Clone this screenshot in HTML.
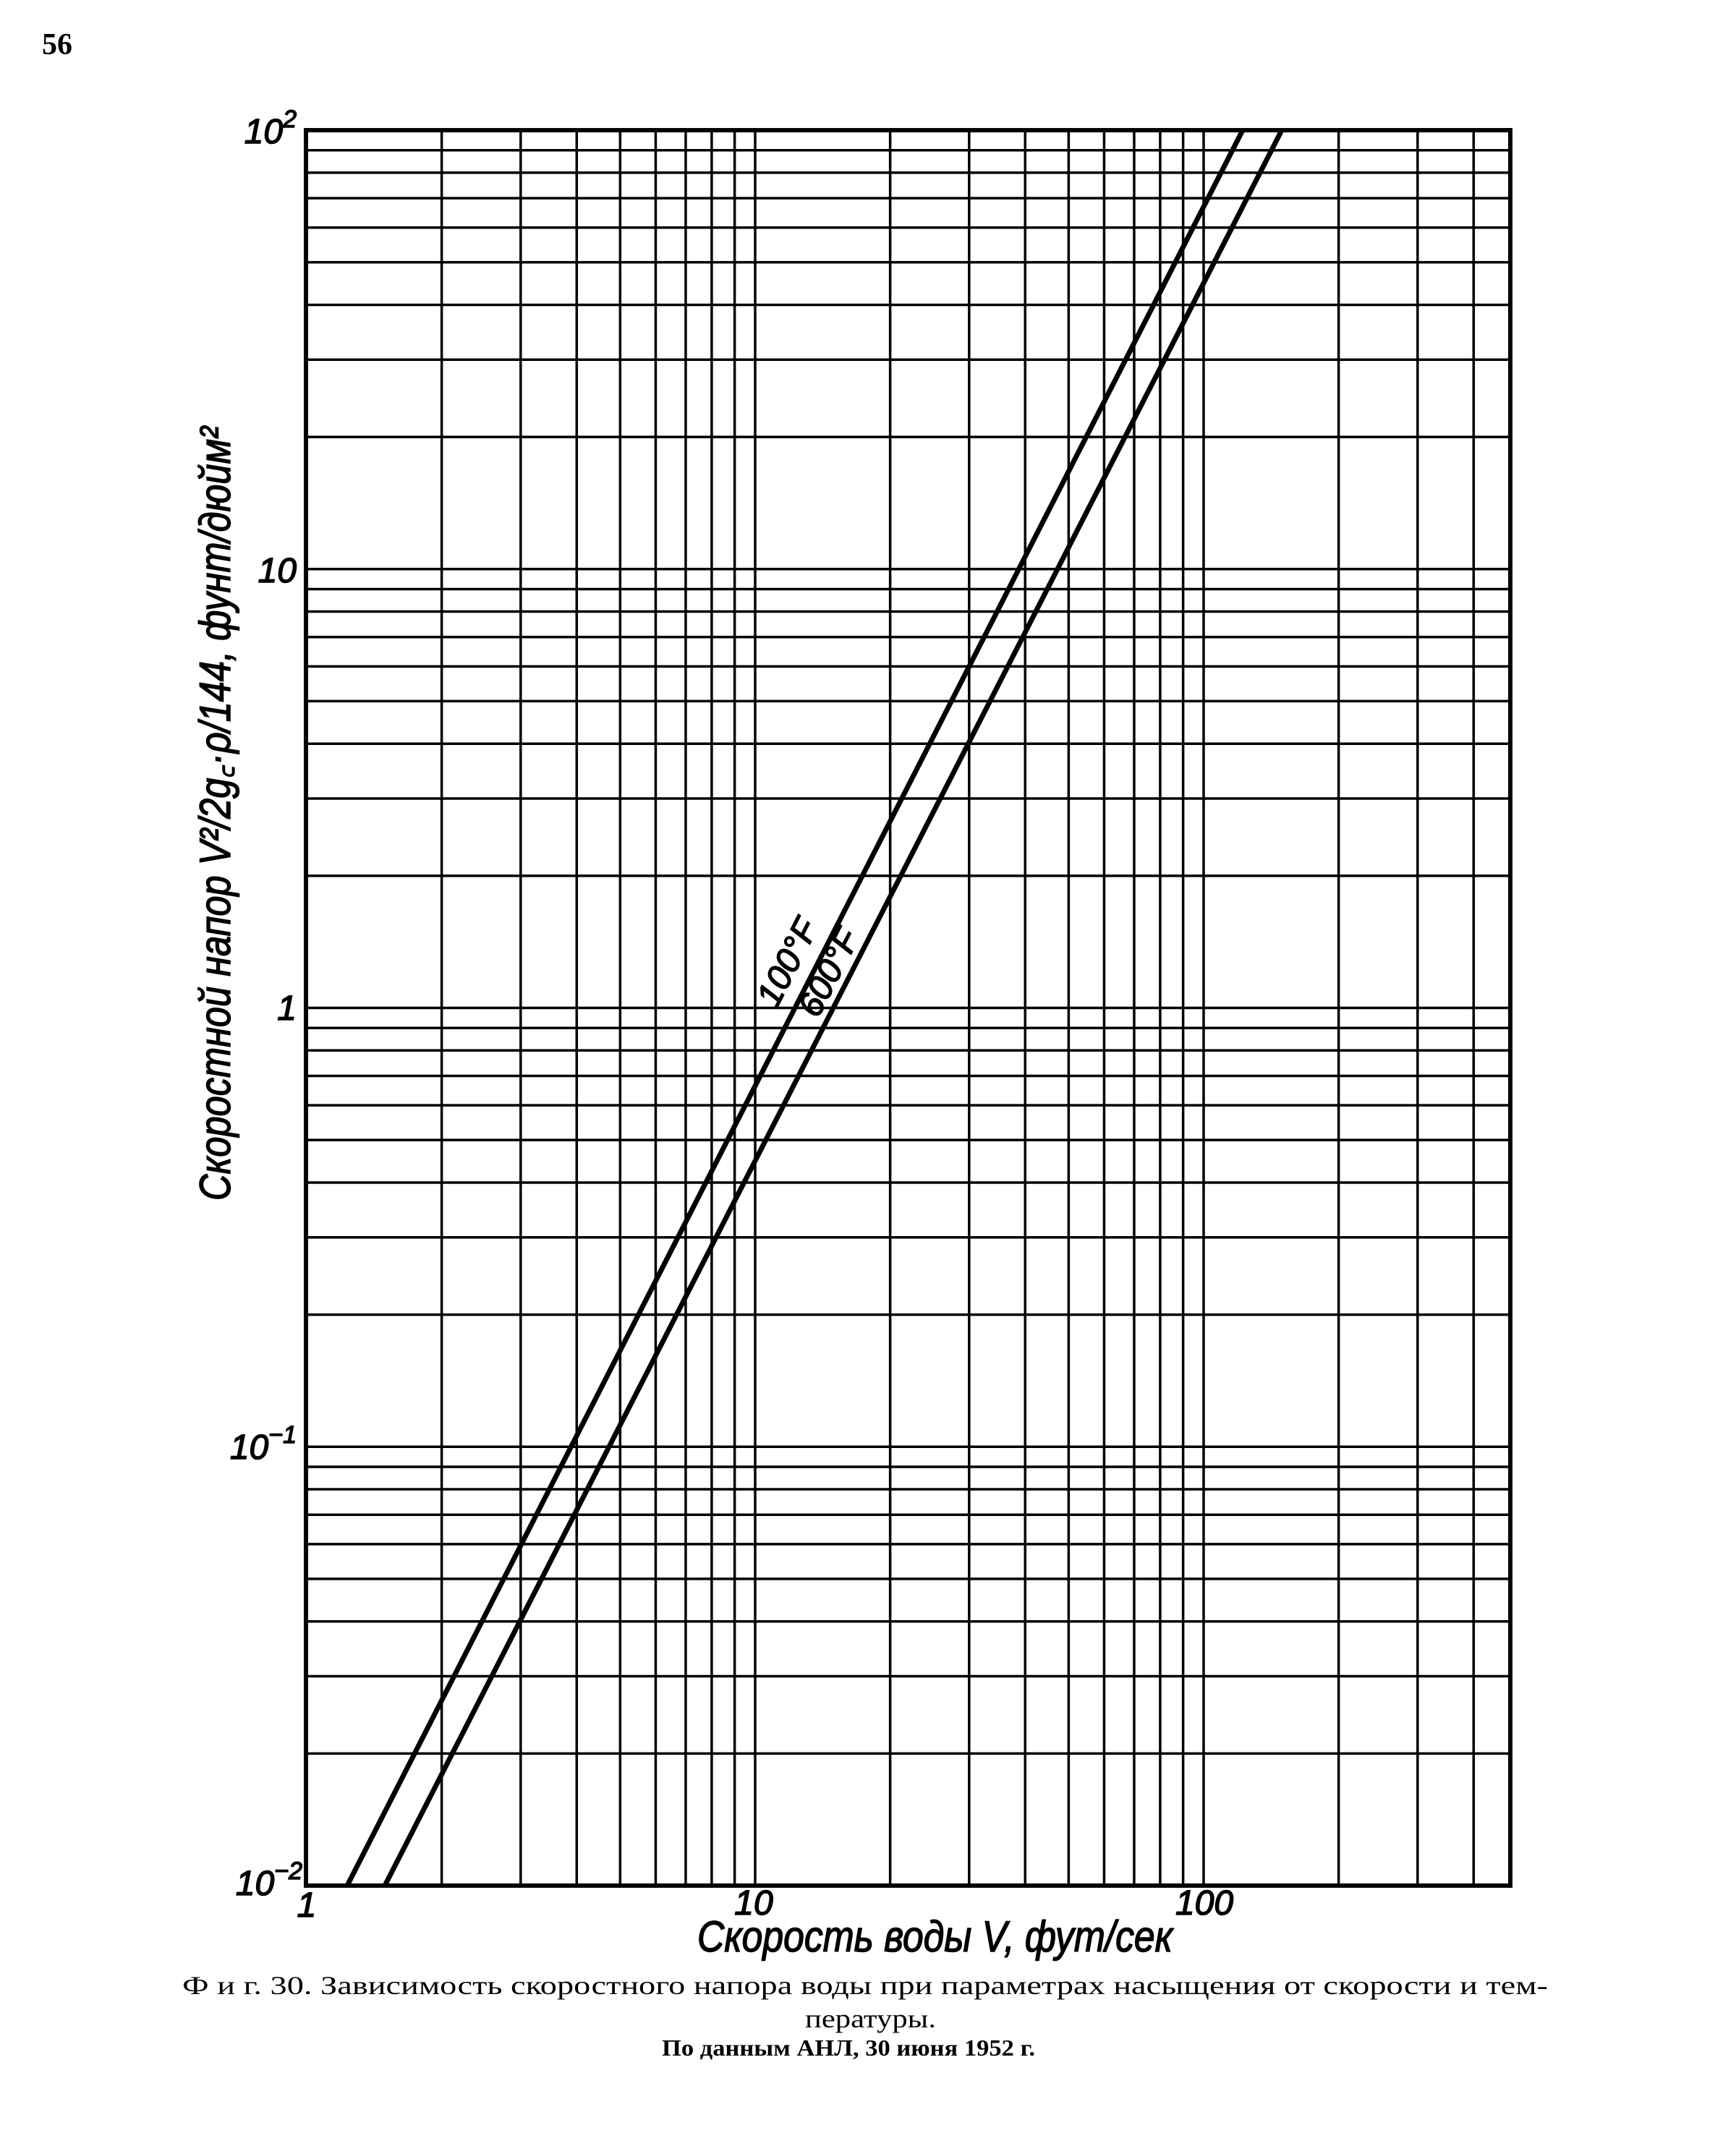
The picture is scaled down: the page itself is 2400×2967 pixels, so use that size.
<!DOCTYPE html>
<html><head><meta charset="utf-8"><style>
html,body{margin:0;padding:0;background:#fff;}
svg{display:block;}
</style></head><body>
<svg width="2400" height="2967" viewBox="0 0 2400 2967" xmlns="http://www.w3.org/2000/svg">
<rect width="2400" height="2967" fill="#fff"/>
<g id="grid" stroke="#000" stroke-width="3.5"></g>
<rect x="423" y="180" width="1665" height="2427" fill="none" stroke="#000" stroke-width="6"/>
<line x1="480" y1="2607" x2="1718" y2="180" stroke="#000" stroke-width="7"/>
<line x1="532" y1="2607" x2="1772" y2="180" stroke="#000" stroke-width="7"/>
<g font-family="Liberation Sans, sans-serif" font-style="italic" fill="#000" stroke="#000" stroke-width="1.5">
<text x="1103" y="1338" font-size="48" transform="rotate(-63 1103 1338)" text-anchor="middle">100°F</text>
<text x="1160" y="1352" font-size="48" transform="rotate(-63 1160 1352)" text-anchor="middle">600°F</text>
<text x="410" y="198" font-size="48" text-anchor="end">10<tspan font-size="34" dy="-22">2</tspan></text>
<text x="410" y="805" font-size="48" text-anchor="end">10</text>
<text x="410" y="1410" font-size="48" text-anchor="end">1</text>
<text x="410" y="2017" font-size="48" text-anchor="end">10<tspan font-size="34" dy="-22">−1</tspan></text>
<text x="418" y="2620" font-size="48" text-anchor="end">10<tspan font-size="34" dy="-22">−2</tspan></text>
<text x="424" y="2650" font-size="48" text-anchor="middle">1</text>
<text x="1042" y="2647" font-size="48" text-anchor="middle">10</text>
<text x="1665" y="2647" font-size="48" text-anchor="middle">100</text>
<text x="964" y="2698" font-size="60" textLength="657" lengthAdjust="spacingAndGlyphs">Скорость  воды V, фут/сек</text>
<text x="318" y="1125" font-size="60" text-anchor="middle" transform="rotate(-90 318 1125)" textLength="1070" lengthAdjust="spacingAndGlyphs">Скоростной  напор V²/2g꜀·ρ/144, фунт/дюйм²</text>
</g>
<g font-family="Liberation Serif, serif" fill="#000">
<text x="58" y="75" font-size="42" font-weight="bold">56</text>
<text x="252" y="2757" font-size="36" textLength="1888" lengthAdjust="spacingAndGlyphs">Ф и г.  30.  Зависимость скоростного напора воды при параметрах насыщения от скорости и тем-</text>
<text x="1113" y="2803" font-size="36" textLength="181" lengthAdjust="spacingAndGlyphs">пературы.</text>
<text x="915" y="2842" font-size="32" font-weight="bold" textLength="516" lengthAdjust="spacingAndGlyphs">По данным АНЛ, 30 июня 1952 г.</text>
</g>
<script>
(function(){
var g=document.getElementById('grid'),ns='http://www.w3.org/2000/svg';
function L(x1,y1,x2,y2){var l=document.createElementNS(ns,'line');l.setAttribute('x1',x1);l.setAttribute('y1',y1);l.setAttribute('x2',x2);l.setAttribute('y2',y2);g.appendChild(l);}
var x0=424,dx=620,y0=2607,dy=606.75;
for(var d=0;d<3;d++)for(var k=1;k<10;k++){var v=Math.log10(k)+d;var x=x0+v*dx;if(x>423&&x<2088)L(x,180,x,2607);}
for(var d=0;d<4;d++)for(var k=1;k<10;k++){var v=Math.log10(k)+d;var y=y0-v*dy;if(y>180&&y<2607)L(423,y,2088,y);}
})();
</script>
</svg>
</body></html>
